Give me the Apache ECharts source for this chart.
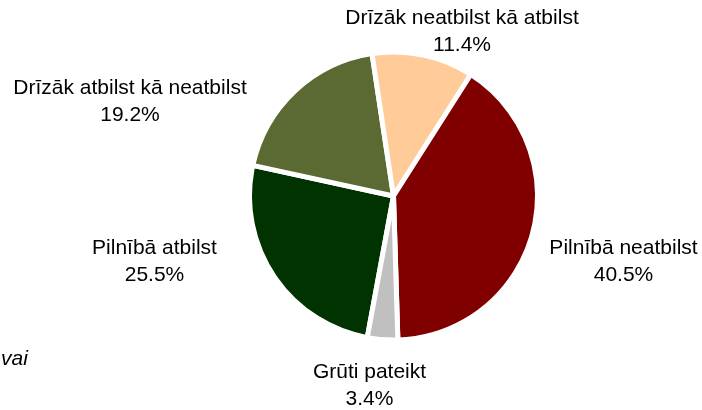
<!DOCTYPE html>
<html>
<head>
<meta charset="utf-8">
<script src="https://cdn.jsdelivr.net/npm/echarts@6/dist/echarts.min.js"></script>
<style>
  html, body { margin: 0; padding: 0; background: #ffffff; }
  #chart { width: 702px; height: 410px; }
</style>
</head>
<body>
<div id="chart"></div>
<script>
// Survey answers (share of respondents, %)
const categories = [
  'Pilnībā atbilst',
  'Drīzāk atbilst kā neatbilst',
  'Drīzāk neatbilst kā atbilst',
  'Pilnībā neatbilst',
  'Grūti pateikt'
];
const shares = [25.5, 19.2, 11.4, 40.5, 3.4];
const sliceColors = ['#003300', '#5A6A32', '#FFCC99', '#800000', '#C0C0C0'];

// Label block centres, in pixels, one per category
const labelAnchors = [
  [154.5, 262],
  [130, 102],
  [462, 32],
  [623.5, 262],
  [369.5, 386]
];

const chart = echarts.init(document.getElementById('chart'), null, { renderer: 'canvas' });

chart.setOption({
  animation: false,
  backgroundColor: '#ffffff',
  textStyle: { fontFamily: 'Liberation Sans, Arial, sans-serif' },
  graphic: [{
    type: 'text',
    left: 1,
    top: 349,
    style: {
      text: 'vai',
      font: 'italic 21px "Liberation Sans", Arial, sans-serif',
      fill: '#000000'
    }
  }],
  series: [{
    type: 'pie',
    center: [393.5, 196],
    radius: 144,
    startAngle: 259.5,
    clockwise: true,
    avoidLabelOverlap: false,
    data: categories.map((name, i) => ({
      name: name,
      value: shares[i],
      itemStyle: { color: sliceColors[i] }
    })),
    itemStyle: { borderColor: '#ffffff', borderWidth: 5 },
    label: {
      show: true,
      position: 'outside',
      color: '#000000',
      fontSize: 21,
      lineHeight: 27,
      align: 'center',
      fontFamily: 'Liberation Sans, Arial, sans-serif',
      formatter: p => p.name + '\n' + p.value.toFixed(1) + '%'
    },
    labelLine: { show: false },
    labelLayout: params => ({
      x: labelAnchors[params.dataIndex][0],
      y: labelAnchors[params.dataIndex][1],
      align: 'center',
      verticalAlign: 'middle'
    }),
    emphasis: { disabled: true }
  }]
});
</script>
</body>
</html>
